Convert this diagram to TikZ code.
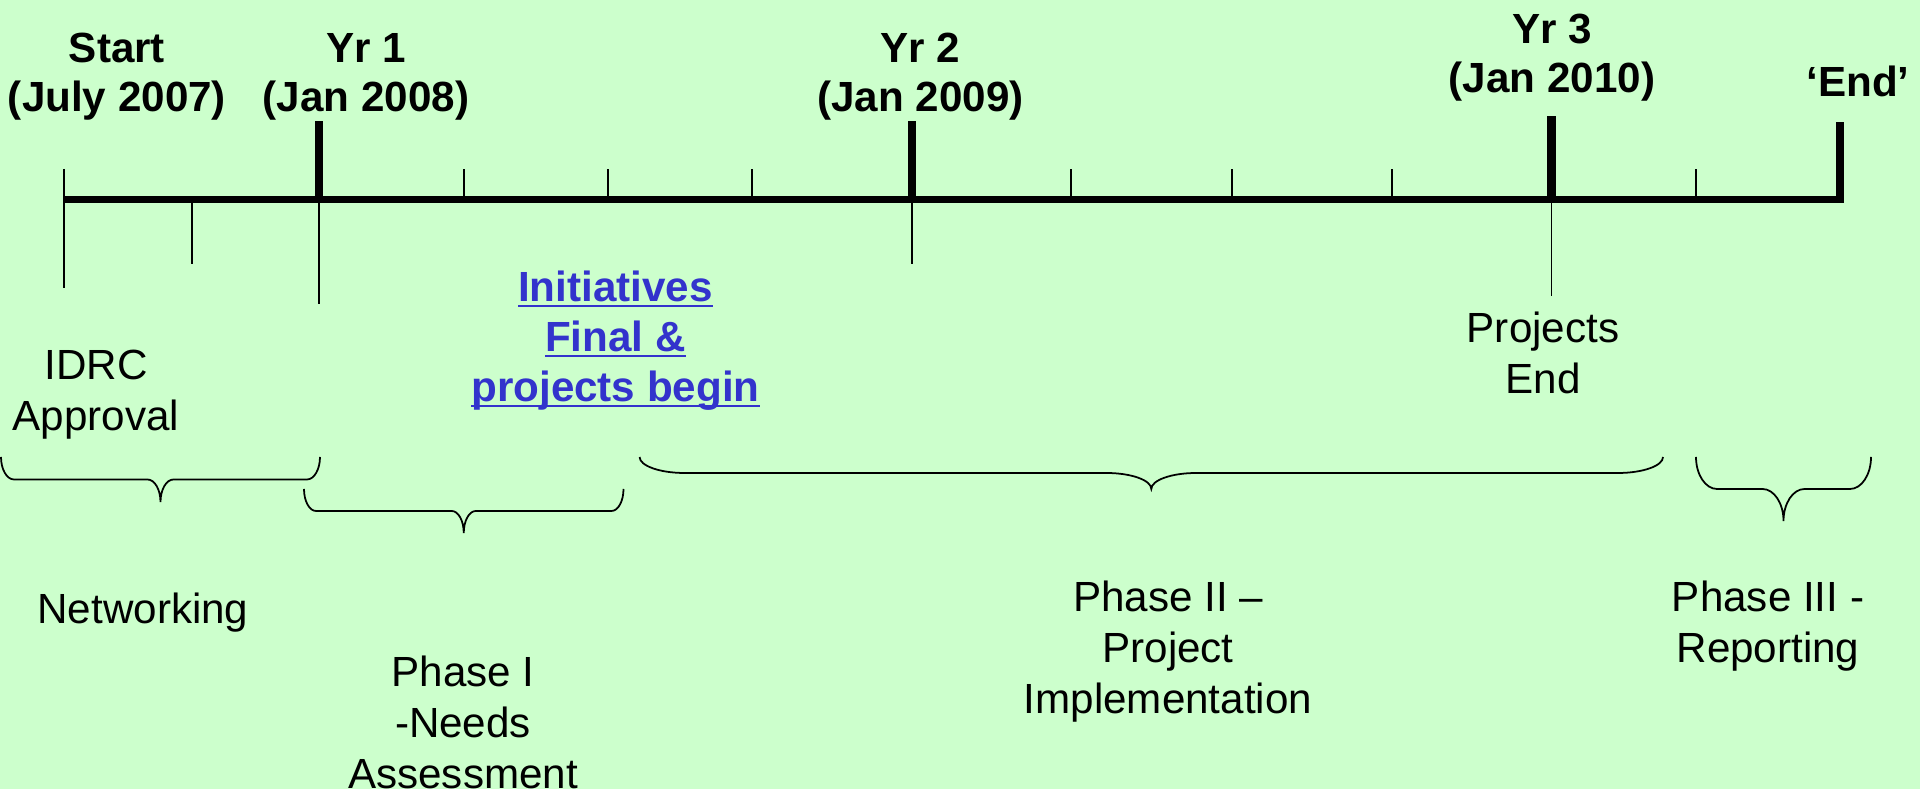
\documentclass[tikz,border=0pt]{standalone}
\usepackage{fontspec}
\setmainfont{Liberation Sans}
\usepackage{xcolor}
\usepackage{tikz}

\definecolor{bggreen}{RGB}{204,255,204}
\definecolor{linkblue}{RGB}{51,51,204}

% underlined line of link text
\newcommand{\linkline}[1]{\setbox0\hbox{#1}\rlap{\rule[-0.12em]{\wd0}{0.05em}}\box0}

% curly brace under a phase: x1, x2, ytop, depth, corner
\newcommand{\phasebrace}[5]{%
    \draw[bracestyle] (#1,#3)
        .. controls (#1,{#3-0.552*#4}) and ({#1+0.448*#5},{#3-#4}) .. ({#1+#5},{#3-#4})
        -- ({(#1+#2)/2-#5},{#3-#4})
        .. controls ({(#1+#2)/2-0.448*#5},{#3-#4}) and ({(#1+#2)/2},{#3-1.448*#4}) .. ({(#1+#2)/2},{#3-2*#4})
        .. controls ({(#1+#2)/2},{#3-1.448*#4}) and ({(#1+#2)/2+0.448*#5},{#3-#4}) .. ({(#1+#2)/2+#5},{#3-#4})
        -- ({#2-#5},{#3-#4})
        .. controls ({#2-0.448*#5},{#3-#4}) and (#2,{#3-0.552*#4}) .. (#2,#3);
}

\begin{document}
\begin{tikzpicture}[
    font=\fontsize{12}{14.5}\selectfont,
    minortick/.style={line width=0.5pt},
    yeartick/.style={line width=2.5pt},
    datelabel/.style={font=\fontsize{12}{14}\selectfont\bfseries, align=center},
    phaselabel/.style={align=center},
    bracestyle/.style={line width=0.5pt}
]
    % background
    \fill[bggreen] (0,0) rectangle (19.2,7.89);
    \useasboundingbox (0,0) rectangle (19.2,7.89);
    % define coordinates
    \coordinate (S) at (0.64,5.89) ;
    \coordinate (Y1) at (3.19,5.89) ;
    \coordinate (Y2) at (9.12,5.89) ;
    \coordinate (Y3) at (15.515,5.89) ;
    \coordinate (E) at (18.40,5.89) ;
    % time line
    \draw[line width=2pt] (S) -- (E);
    \foreach \x in {4.64,6.08,7.52,10.71,12.32,13.92,16.96}
        \draw[minortick] (\x,5.89) -- (\x,6.20);
    \draw[minortick] (0.64,6.20) -- (0.64,5.01);
    \draw[minortick] (1.92,5.89) -- (1.92,5.25);
    \draw[minortick] (Y1) -- (3.19,4.85);
    \draw[minortick] (Y2) -- (9.12,5.25);
    \draw[minortick] (Y3) -- (15.515,4.93);
    \draw[yeartick] (Y1) -- (3.19,6.68);
    \draw[yeartick] (Y2) -- (9.12,6.68);
    \draw[yeartick] (15.515,5.93) -- (15.515,6.73);
    \draw[yeartick] (18.40,5.86) -- (18.40,6.67);
    % dates
    \node[datelabel] (start) at (1.17,7.12) {Start\\(July 2007)};
    \node[datelabel] (yr1) at (3.66,7.12) {Yr 1\\(Jan 2008)};
    \node[datelabel] (yr2) at (9.205,7.12) {Yr 2\\(Jan 2009)};
    \node[datelabel] (yr3) at (15.52,7.31) {Yr 3\\(Jan 2010)};
    \node[datelabel] (fin) at (18.58,7.08) {‘End’};
    % events
    \node[phaselabel] (idrc) at (0.96,3.945) {IDRC\\Approval};
    \node[phaselabel, text=linkblue, font=\fontsize{12}{14.2}\selectfont\bfseries] (init) at (6.155,4.48)
        {\linkline{Initiatives}\\\linkline{Final \&}\\\linkline{projects begin}};
    \node[phaselabel] (projend) at (15.43,4.365) {Projects\\End};
    % phases
    \phasebrace{0.01}{3.20}{3.32}{0.225}{0.13}
    \phasebrace{3.04}{6.235}{3.00}{0.22}{0.12}
    \phasebrace{6.396}{16.63}{3.32}{0.16}{0.45}
    \phasebrace{16.96}{18.71}{3.32}{0.32}{0.21}
    \node[phaselabel] (netw) at (1.43,1.76) {Networking};
    \node[phaselabel] (phaseone) at (4.63,0.67) {Phase I\\-Needs\\Assessment};
    \node[phaselabel] (phasetwo) at (11.68,1.37) {Phase II –\\Project\\Implementation};
    \node[phaselabel] (phasethree) at (17.68,1.63) {Phase III -\\Reporting};
\end{tikzpicture}
\end{document}
